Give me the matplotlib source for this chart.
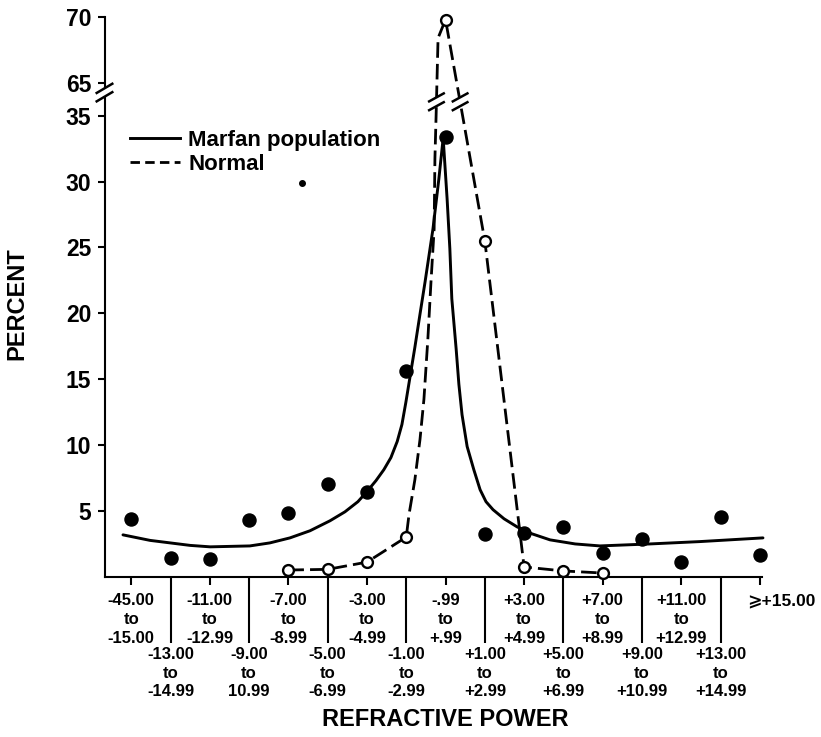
import numpy as np
import matplotlib
matplotlib.use("Agg")
import matplotlib.pyplot as plt
from matplotlib.lines import Line2D
from matplotlib.patches import Polygon
from matplotlib.transforms import IdentityTransform, ScaledTranslation

plt.rcParams['font.family'] = ['Liberation Sans', 'DejaVu Sans']
plt.rcParams['font.weight'] = 'bold'

# ---------------- data ----------------
category_labels = [
    "-45.00\nto\n-15.00", "-13.00\nto\n-14.99", "-11.00\nto\n-12.99",
    "-9.00\nto\n10.99", "-7.00\nto\n-8.99", "-5.00\nto\n-6.99",
    "-3.00\nto\n-4.99", "-1.00\nto\n-2.99", "-.99\nto\n+.99",
    "+1.00\nto\n+2.99", "+3.00\nto\n+4.99", "+5.00\nto\n+6.99",
    "+7.00\nto\n+8.99", "+9.00\nto\n+10.99", "+11.00\nto\n+12.99",
    "+13.00\nto\n+14.99", "\u2a7e+15.00",
]
category_pos = list(range(17))

marfan_pct = [4.4, 1.4, 1.35, 4.3, 4.85, 7.0, 6.45, 15.6, 33.35,
              3.25, 3.33, 3.78, 1.8, 2.87, 1.1, 4.55, 1.65]

normal_cats = [4, 5, 6, 7, 8, 9, 10, 11, 12]
normal_pct = [0.5, 0.55, 1.1, 3.0, 69.8, 25.5, 0.73, 0.43, 0.27]

# smooth curve drawn through the Marfan data
marfan_fit_x = [-0.21, 0.48, 0.99, 1.50, 2.01, 3.02, 3.53, 4.04, 4.55, 5.06,
                5.44, 5.77, 6.00, 6.23, 6.43, 6.61, 6.77, 6.89, 6.99, 7.12,
                7.22, 7.35, 7.48, 7.68, 7.83, 7.94, 8.04, 8.11, 8.16, 8.27,
                8.34, 8.42, 8.55, 8.72, 8.88, 9.03, 9.21, 9.49, 9.82, 10.20,
                10.66, 11.30, 11.93, 13.20, 14.48, 16.08]
marfan_fit_y = [3.17, 2.75, 2.56, 2.37, 2.26, 2.33, 2.56, 2.94, 3.48, 4.24,
                4.92, 5.69, 6.46, 7.29, 8.12, 9.04, 10.26, 11.55, 13.23, 15.6,
                17.42, 19.93, 22.4, 26.4, 30.2, 33.3, 28.7, 24.9, 21.1, 17.3,
                14.6, 12.3, 9.88, 8.12, 6.60, 5.69, 5.08, 4.39, 3.78, 3.25,
                2.79, 2.48, 2.33, 2.48, 2.66, 2.94]

# dashed line joining the normal data
normal_line_x = [4, 5, 6, 7, 7.07, 7.22, 7.35, 7.45, 7.55, 7.63, 7.71, 7.73,
                 7.76, 7.81, 8, 9, 10, 11, 12]
normal_line_y = [0.5, 0.55, 1.1, 3.0, 4.7, 7.36, 10.41, 13.46, 18.03, 22.4,
                 26.4, 31.75, 35.0, 68.4, 69.8, 25.5, 0.73, 0.43, 0.27]

stray_mark_x = [4.35]
stray_mark_y = [29.9]

y_ticks = [5, 10, 15, 20, 25, 30, 35, 65, 70]
y_tick_labels = ["5", "10", "15", "20", "25", "30", "35", "65", "70"]
legend_labels = ["Marfan population", "Normal"]

# ---------------- broken y scale ----------------
def fwd(v):
    v = np.asarray(v, dtype=float)
    return np.where(v <= 35, v, np.where(v >= 65, v - 27.5, 35 + (v - 35) / 12.0))

def inv(t):
    t = np.asarray(t, dtype=float)
    return np.where(t <= 35, t, np.where(t >= 37.5, t + 27.5, 35 + (t - 35) * 12.0))

W, H = 821, 737
fig = plt.figure(figsize=(W / 100, H / 100), dpi=100)
ax_l, ax_r, ax_b, ax_t = 104.5, 762.0, 576.6, 17.0
ax = fig.add_axes([ax_l / W, 1 - ax_b / H, (ax_r - ax_l) / W, (ax_b - ax_t) / H])
ax.set_yscale('function', functions=(fwd, inv))
ax.set_xlim(-0.68, 16.055)
ax.set_ylim(0, 70)

for s in ['top', 'right']:
    ax.spines[s].set_visible(False)
for s in ['left', 'bottom']:
    ax.spines[s].set_linewidth(1.5)

# lines
ax.plot(marfan_fit_x, marfan_fit_y, color='black', lw=2.1, zorder=3,
        clip_on=False, solid_joinstyle='round', solid_capstyle='round')
ax.plot(normal_line_x, normal_line_y, color='black', lw=2.0, zorder=3,
        clip_on=False, dashes=(5.6, 2.2))

# markers
ax.plot(category_pos, marfan_pct, 'o', color='black', ms=9.4, zorder=5, clip_on=False)
ax.plot(normal_cats, normal_pct, 'o', mfc='white', mec='black', ms=7.8, mew=1.7,
        zorder=6, clip_on=False)
ax.plot(stray_mark_x, stray_mark_y, 'o', color='black', ms=4, zorder=5)

# ticks
even = category_pos[0::2]
odd = category_pos[1::2]
ax.set_xticks(even)
ax.set_xticklabels(category_labels[0::2], linespacing=1.32)
ax.set_xticks(odd, minor=True)
ax.set_xticklabels(category_labels[1::2], minor=True, linespacing=1.32)
ax.tick_params(axis='x', which='major', length=5.8, width=1.5, pad=6, labelsize=12)
ax.tick_params(axis='x', which='minor', length=47.5, width=1.5, pad=3, labelsize=12)
ax.set_yticks(y_ticks)
ax.set_yticklabels(y_tick_labels)
ax.yaxis.set_minor_locator(matplotlib.ticker.NullLocator())
ax.tick_params(axis='y', length=5.0, width=1.5, pad=4.5, labelsize=16.5)
for lab in ax.get_xticklabels(which='both'):
    lab.set_fontweight('bold')
for lab in ax.get_yticklabels():
    lab.set_fontweight('bold')

last = ax.get_xticklabels()[-1]
last.set_fontsize(12.5)
last.set_transform(last.get_transform() + ScaledTranslation(21 / 100, 0, fig.dpi_scale_trans))

# axis labels
ax.set_xlabel("REFRACTIVE POWER", fontsize=17, fontweight='bold', va='center')
ax.xaxis.set_label_coords(0.5186, -0.2545)
ax.set_ylabel("PERCENT", fontsize=17, fontweight='bold', va='center')
ax.yaxis.set_label_coords(-0.1338, 0.488)

# legend (manual)
ax.add_line(Line2D([0.0388, 0.1149], [0.7832, 0.7832], transform=ax.transAxes,
                   color='black', lw=2.1))
ax.add_line(Line2D([0.0388, 0.1149], [0.7409, 0.7409], transform=ax.transAxes,
                   color='black', lw=2.0, dashes=(3.4, 1.9)))
ax.text(0.127, 0.7703, legend_labels[0], transform=ax.transAxes, fontsize=16,
        fontweight='bold', va='baseline', ha='left')
ax.text(0.127, 0.7274, legend_labels[1], transform=ax.transAxes, fontsize=16,
        fontweight='bold', va='baseline', ha='left')

# ---------------- axis break marks ----------------
def draw_break(cx, cy, hx=7.8, hy=4.6, sep=4.2, lw=1.8):
    poly = [(cx - hx, cy - hy - sep), (cx + hx, cy + hy - sep),
            (cx + hx, cy + hy + sep), (cx - hx, cy - hy + sep)]
    fig.add_artist(Polygon(poly, closed=True, facecolor='white', edgecolor='none',
                           transform=IdentityTransform(), zorder=10))
    for s in (-sep, sep):
        fig.add_artist(Line2D([cx - hx, cx + hx], [cy - hy + s, cy + hy + s],
                              color='black', lw=lw, transform=IdentityTransform(),
                              zorder=11))

# y axis break
bx, by = ax.transAxes.transform((0, 0.865))
draw_break(bx, by)

# breaks on the normal line
line_break_y = ax.transAxes.transform((0, 0.8485))[1]
disp = ax.transData.transform(np.column_stack([normal_line_x, normal_line_y]))
peak_i = int(np.argmax(normal_line_y))
left_branch = disp[:peak_i + 1]
right_branch = disp[peak_i:]
xl = np.interp(line_break_y, left_branch[:, 1], left_branch[:, 0])
xr = np.interp(line_break_y, right_branch[::-1, 1], right_branch[::-1, 0])
draw_break(xl, line_break_y, hx=7.3, hy=4.0, sep=4.4)
draw_break(xr, line_break_y, hx=7.3, hy=4.0, sep=4.4)

fig.savefig("out.png", dpi=100, facecolor='white')
